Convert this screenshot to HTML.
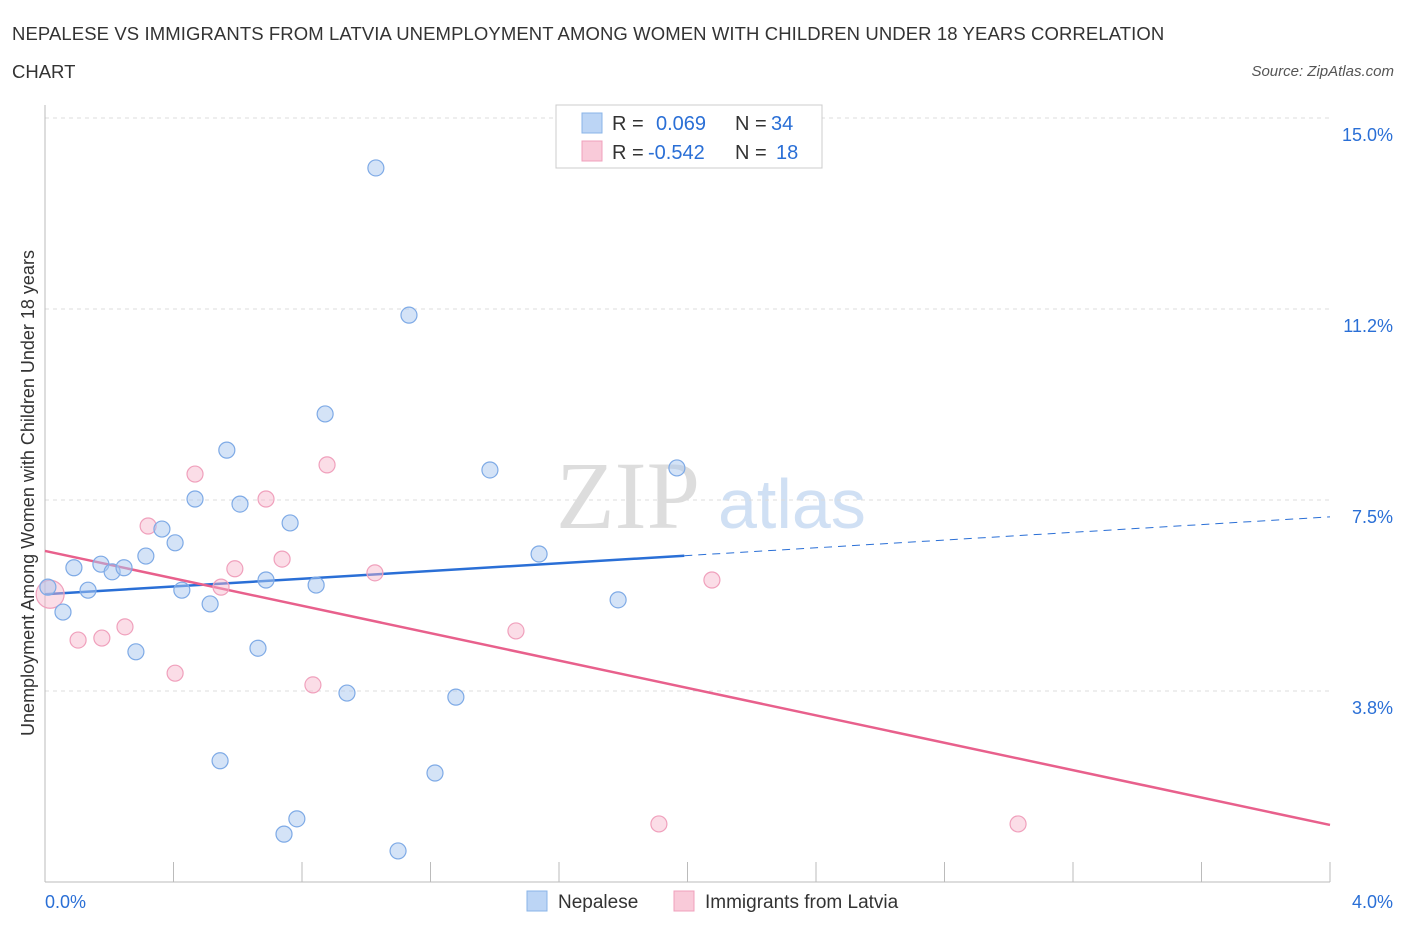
<!DOCTYPE html>
<html><head><meta charset="utf-8"><style>
body{margin:0;background:#fff;font-family:"Liberation Sans",Arial,sans-serif}
</style></head><body>
<svg id="c" width="1406" height="930" xmlns="http://www.w3.org/2000/svg">
<text x="12" y="40" font-size="18.5" letter-spacing="0.1" fill="#333">NEPALESE VS IMMIGRANTS FROM LATVIA UNEMPLOYMENT AMONG WOMEN WITH CHILDREN UNDER 18 YEARS CORRELATION</text>
<text x="12" y="78" font-size="18.5" fill="#333">CHART</text>
<text x="1394" y="76" font-size="15" fill="#555" font-style="italic" text-anchor="end">Source: ZipAtlas.com</text>
<text x="556" y="528" font-size="96" fill="#ddd" font-family="Liberation Serif,serif">ZIP</text>
<text x="718" y="528" font-size="70" fill="#d0e0f4">atlas</text>
<text transform="translate(34,493) rotate(-90)" font-size="18" fill="#333" text-anchor="middle">Unemployment Among Women with Children Under 18 years</text>
<g id="grid"></g><g id="trend"></g><g id="pts"></g>
<rect x="556" y="105" width="266" height="63" fill="#fff" stroke="#ccc"/>
<rect x="582" y="113" width="20" height="20" fill="#bcd5f5" stroke="#8ab4e8"/>
<rect x="582" y="141" width="20" height="20" fill="#f9cad9" stroke="#f0a0bc"/>
<text x="612" y="130" font-size="20" fill="#333">R = <tspan fill="#2a6fd6" x="656">0.069</tspan><tspan x="735" fill="#333">N = </tspan><tspan fill="#2a6fd6" x="771">34</tspan></text>
<text x="612" y="159" font-size="20" fill="#333">R = <tspan fill="#2a6fd6" x="648">-0.542</tspan><tspan x="735" fill="#333">N = </tspan><tspan fill="#2a6fd6" x="776">18</tspan></text>
<rect x="527" y="891" width="20" height="20" fill="#bcd5f5" stroke="#8ab4e8"/>
<text x="558" y="908" font-size="19" fill="#333">Nepalese</text>
<rect x="674" y="891" width="20" height="20" fill="#f9cad9" stroke="#f0a0bc"/>
<text x="705" y="908" font-size="19" fill="#333">Immigrants from Latvia</text>
</svg>
<script>
const yTicks=[3.75,7.5,11.25,15];
const yTickLabels=["3.8%","7.5%","11.2%","15.0%"];
const xTicks=[0,0.4,0.8,1.2,1.6,2.0,2.4,2.8,3.2,3.6,4.0];
const nepX=[0.009,0.056,0.090,0.134,0.174,0.209,0.246,0.283,0.314,0.364,0.405,0.426,0.467,0.514,0.545,0.566,0.607,0.663,0.688,0.744,0.763,0.784,0.844,0.872,0.940,1.030,1.099,1.133,1.214,1.279,1.385,1.538,1.784,1.967];
const nepY=[5.79,5.30,6.17,5.73,6.24,6.09,6.17,4.52,6.40,6.93,6.66,5.73,7.52,5.46,2.38,8.48,7.42,4.59,5.93,0.94,7.05,1.24,5.83,9.19,3.71,14.02,0.61,11.13,2.14,3.63,8.09,6.44,5.54,8.13];
const latX=[0.016,0.103,0.177,0.249,0.321,0.405,0.467,0.548,0.591,0.688,0.738,0.834,0.878,1.027,1.466,1.911,2.076,3.029];
const latY=[5.65,4.75,4.79,5.01,6.99,4.10,8.01,5.79,6.15,7.52,6.34,3.87,8.19,6.07,4.93,1.14,5.93,1.14];
const nepTrend=[5.65,7.17];
const latTrend=[6.50,1.12];
const X=v=>45+v*321.25, Y=v=>882-v*50.93;
const NS="http://www.w3.org/2000/svg";
function mk(t,a,p){const e=document.createElementNS(NS,t);for(const k in a)e.setAttribute(k,a[k]);p.appendChild(e);return e;}
const g=document.getElementById('grid');
yTicks.forEach((v,i)=>{
 const l=mk('line',{x1:45,x2:1330,y1:Y(v),y2:Y(v),stroke:'#ddd','stroke-dasharray':'4,4'},g);
 
 
 const t=mk('text',{x:1393,y:Y(v)+23,'font-size':18,fill:'#2a6fd6','text-anchor':'end'},g);t.textContent=yTickLabels[i];
 
 
});
const ax=mk('line',{x1:45,x2:1330,y1:882,y2:882,stroke:'#bbb'},g);


const ay=mk('line',{x1:45,x2:45,y1:105,y2:882,stroke:'#bbb'},g);


xTicks.forEach(v=>{const l=mk('line',{x1:X(v),x2:X(v),y1:862,y2:882,stroke:'#bbb'},g);
 
 });
let t=mk('text',{x:45,y:908,'font-size':18,fill:'#2a6fd6'},g);t.textContent="0.0%";


t=mk('text',{x:1393,y:908,'font-size':18,fill:'#2a6fd6','text-anchor':'end'},g);t.textContent="4.0%";


const tr=document.getElementById('trend');
const nx=1.99, ny=nepTrend[0]+(nepTrend[1]-nepTrend[0])*nx/4;
let l=mk('line',{x1:X(0),y1:Y(nepTrend[0]),x2:X(nx),y2:Y(ny),stroke:'#2a6fd6','stroke-width':2.5},tr);


l=mk('line',{x1:X(nx),y1:Y(ny),x2:X(4),y2:Y(nepTrend[1]),stroke:'#2a6fd6','stroke-width':1,'stroke-dasharray':'8,6'},tr);


l=mk('line',{x1:X(0),y1:Y(latTrend[0]),x2:X(4),y2:Y(latTrend[1]),stroke:'#e8608c','stroke-width':2.5},tr);


const p=document.getElementById('pts');
latX.forEach((v,i)=>{const c=mk('circle',{cx:X(v),cy:Y(latY[i]),r:i==0?14:8,fill:'rgba(246,180,202,0.45)',stroke:'#f0a0bc','stroke-width':1.2},p);
 
 });
nepX.forEach((v,i)=>{const c=mk('circle',{cx:X(v),cy:Y(nepY[i]),r:8,fill:'rgba(170,200,240,0.5)',stroke:'#7eaae6','stroke-width':1.2},p);
 
 });
</script>
</body></html>
